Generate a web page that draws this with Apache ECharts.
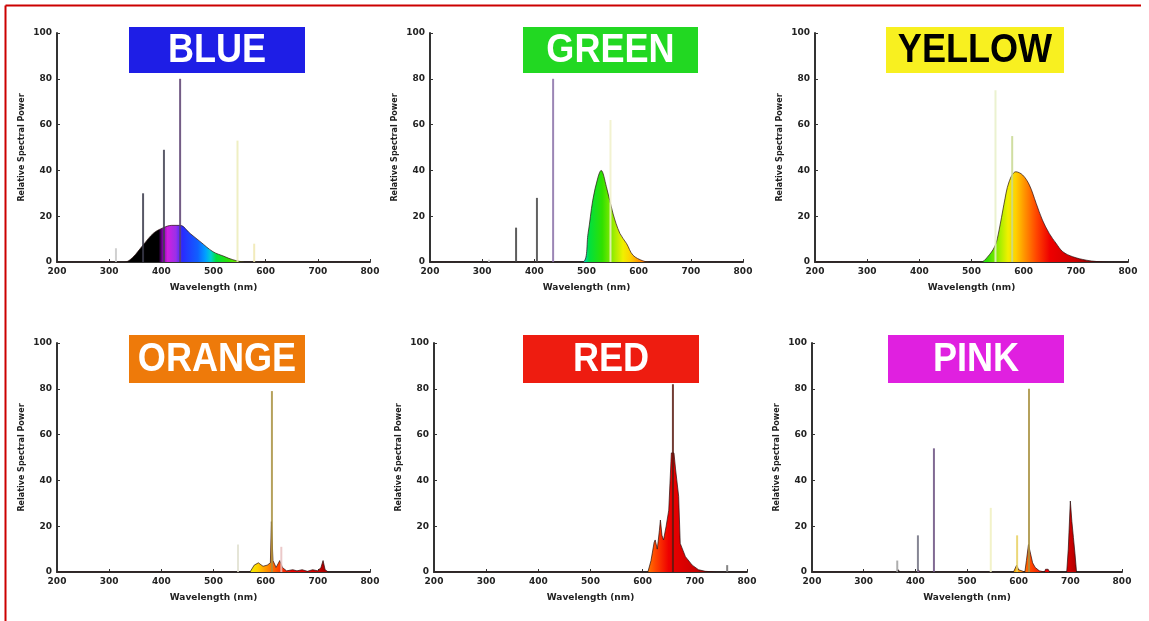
<!DOCTYPE html>
<html>
<head>
<meta charset="utf-8">
<script src="https://cdn.jsdelivr.net/npm/echarts@6/dist/echarts.min.js"></script>
<style>
  html, body { margin: 0; padding: 0; background: #fff; }
  #chart-spd { width: 1149px; height: 621px; }
</style>
</head>
<body>
<div id="chart-spd"></div>
<script>
// tick labels
var xTicks = [200, 300, 400, 500, 600, 700, 800];
var yTicks = [0, 20, 40, 60, 80, 100];

// broad phosphor curves [nm, power]
var blueCurve = [[200, 0], [330, 0], [345, 2], [365, 7.4], [385, 12.6], [404, 15], [420, 16], [436, 16], [455, 12.5], [474, 9], [499, 4.5], [520, 2.5], [537, 1], [560, 0], [800, 0]];
var greenCurve = [[200, 0], [492, 0], [503, 12.5], [512, 27], [522, 37], [528, 40], [538, 33], [551, 21], [564, 12.5], [577, 8], [589, 3], [608, 0.5], [620, 0], [800, 0]];
var yellowCurve = [[200, 0], [518, 0], [530, 2], [545, 7], [553, 14], [562, 25], [572, 35], [585, 39.4], [598, 38], [611, 33.6], [624, 25.6], [636, 18.3], [649, 12.5], [662, 8.2], [675, 4.5], [694, 2.3], [720, 0.8], [740, 0.2], [760, 0], [800, 0]];
var orangeCurve = [[200, 0], [570, 0], [578, 3], [586, 4], [595, 2.5], [603, 3], [609, 4], [611, 22], [614, 5], [620, 2], [627, 5], [632, 2], [640, 0.5], [652, 1], [660, 0.5], [670, 1], [680, 0.3], [690, 1], [700, 0.5], [706, 2], [710, 5], [714, 1], [720, 0], [800, 0]];
var redCurve = [[200, 0], [610, 0], [616, 5], [622, 13], [624, 14], [628, 10], [632, 18], [634, 22.7], [637, 16], [640, 14], [645, 20], [650, 27], [655, 52], [660, 52], [663, 45], [669, 33], [672, 12.5], [682, 6.7], [695, 3], [707, 1], [720, 0.3], [740, 0], [800, 0]];
var pinkCurve = [[200, 0], [365, 0], [367, 1], [370, 0], [404, 0], [406, 1], [409, 0], [590, 0], [596, 3], [600, 1], [612, 0], [615, 5], [619, 12], [622, 12], [627, 4], [632, 2], [640, 0.5], [650, 0], [652, 1.2], [657, 1.2], [660, 0], [693, 0], [696, 10], [700, 31], [703, 22], [706, 15], [709, 8], [712, 0], [800, 0]];

// sharp emission lines [nm, power]
var blueLines = [[313, 6], [365, 30], [405, 49], [436, 80], [546, 53], [578, 8]];
var greenLines = [[313, 1], [365, 15], [405, 28], [436, 80], [546, 62]];
var yellowLines = [[546, 75], [578, 55]];
var orangeLines = [[547, 12], [612, 79], [630, 11]];
var redLines = [[658, 82], [762, 3]];
var pinkLines = [[365, 5], [405, 16], [436, 54], [546, 28], [597, 16], [620, 80]];

var blueLineColors = ['#c8c8c8', '#3a3a4a', '#404050', '#5a4070', '#ececb8', '#f0e8b0'];
var greenLineColors = ['#cccccc', '#404040', '#454545', '#8a70a8', '#f0f0c8'];
var yellowLineColors = ['#e8f0c8', '#c8d890'];
var orangeLineColors = ['#e0e0d0', '#a89040', '#e8c0c0'];
var redLineColors = ['#5a1a10', '#707070'];
var pinkLineColors = ['#a0a0a0', '#707080', '#6a5080', '#f0f0c0', '#e8d060', '#a89040'];

// colour of light along the wavelength axis
var spectrum = [[200, '#000000'], [395, '#000000'], [402, '#7a00a0'], [412, '#d020e0'], [428, '#9a30e8'], [440, '#2a2aff'], [470, '#1060ff'], [485, '#00a0ff'], [495, '#00d0d0'], [505, '#00e040'], [530, '#30e000'], [555, '#a8ee00'], [570, '#f0f000'], [585, '#ffd000'], [600, '#ff9900'], [625, '#ff4400'], [650, '#ee0000'], [700, '#cc0000'], [730, '#800000'], [800, '#400000']];

var panels = [
  { name: 'BLUE', box: '#1e1ee6', text: '#fff', curve: blueCurve, lines: blueLines, colors: blueLineColors, smooth: true,
    grid: { left: 57, top: 33, width: 313, height: 229 }, title: [129, 27, 176, 46] },
  { name: 'GREEN', box: '#22d822', text: '#fff', curve: greenCurve, lines: greenLines, colors: greenLineColors, smooth: true,
    grid: { left: 430, top: 33, width: 313, height: 229 }, title: [523, 27, 175, 46] },
  { name: 'YELLOW', box: '#f8f020', text: '#000', curve: yellowCurve, lines: yellowLines, colors: yellowLineColors, smooth: true,
    grid: { left: 815, top: 33, width: 313, height: 229 }, title: [886, 27, 178, 46] },
  { name: 'ORANGE', box: '#ee7a0a', text: '#fff', curve: orangeCurve, lines: orangeLines, colors: orangeLineColors, smooth: false,
    grid: { left: 57, top: 343, width: 313, height: 229 }, title: [129, 335, 176, 48] },
  { name: 'RED', box: '#ee1c10', text: '#fff', curve: redCurve, lines: redLines, colors: redLineColors, smooth: false,
    grid: { left: 434, top: 343, width: 313, height: 229 }, title: [523, 335, 176, 48] },
  { name: 'PINK', box: '#e020e0', text: '#fff', curve: pinkCurve, lines: pinkLines, colors: pinkLineColors, smooth: false,
    grid: { left: 812, top: 343, width: 310, height: 229 }, title: [888, 335, 176, 48] }
];

var dom = document.getElementById('chart-spd');
var myChart = echarts.init(dom, null, { renderer: 'canvas' });

var spectrumFill = new echarts.graphic.LinearGradient(0, 0, 1, 0,
  spectrum.map(function (s) {
    return { offset: (s[0] - xTicks[0]) / (xTicks[xTicks.length - 1] - xTicks[0]), color: s[1] };
  })
);

var labelFont = { color: '#222', fontSize: 9, fontWeight: 'bold', fontFamily: 'DejaVu Sans' };
var grids = [], xAxes = [], yAxes = [], series = [];
var graphics = [
  { type: 'line', shape: { x1: 5.5, y1: 5.5, x2: 1141, y2: 5.5 }, style: { stroke: '#cc0000', lineWidth: 2 } },
  { type: 'line', shape: { x1: 5.5, y1: 5.5, x2: 5.5, y2: 621 }, style: { stroke: '#cc0000', lineWidth: 2 } }
];

panels.forEach(function (p, i) {
  grids.push(p.grid);
  xAxes.push({
    type: 'value', gridIndex: i, min: xTicks[0], max: xTicks[xTicks.length - 1], interval: 100,
    name: 'Wavelength (nm)', nameLocation: 'middle', nameGap: 21,
    nameTextStyle: labelFont,
    axisLine: { lineStyle: { color: '#333', width: 2 } },
    axisTick: { inside: true, length: 3, lineStyle: { color: '#333' } },
    axisLabel: Object.assign({ margin: 5 }, labelFont),
    splitLine: { show: false }
  });
  yAxes.push({
    type: 'value', gridIndex: i, min: yTicks[0], max: yTicks[yTicks.length - 1], interval: 20,
    name: 'Relative Spectral Power', nameLocation: 'middle', nameGap: 31,
    nameTextStyle: Object.assign({}, labelFont, { fontSize: 8 }),
    axisLine: { show: true, lineStyle: { color: '#333', width: 2 } },
    axisTick: { show: true, inside: true, length: 3, lineStyle: { color: '#333' } },
    axisLabel: Object.assign({ margin: 5 }, labelFont),
    splitLine: { show: false }
  });
  series.push({
    type: 'line', xAxisIndex: i, yAxisIndex: i, data: p.curve,
    smooth: p.smooth ? 0.35 : false, symbol: 'none',
    lineStyle: { color: '#2a1010', width: 1, opacity: 0.7 },
    areaStyle: { color: spectrumFill, opacity: 1 },
    z: 2
  });
  series.push({
    type: 'bar', xAxisIndex: i, yAxisIndex: i, barWidth: 2,
    data: p.lines.map(function (d, k) {
      return { value: d, itemStyle: { color: p.colors[k], opacity: 0.85 } };
    }),
    z: 3
  });
  graphics.push({
    type: 'group', left: p.title[0], top: p.title[1],
    children: [
      { type: 'rect', shape: { x: 0, y: 0, width: p.title[2], height: p.title[3] }, style: { fill: p.box } },
      { type: 'text', x: p.title[2] / 2, y: p.title[3] / 2 + 1, scaleX: 0.88,
        style: { text: p.name, fill: p.text, font: 'bold 41px "Liberation Sans", Arial, sans-serif',
                 align: 'center', verticalAlign: 'middle' } }
    ]
  });
});

var option = {
  backgroundColor: '#fff',
  animation: false,
  grid: grids,
  xAxis: xAxes,
  yAxis: yAxes,
  series: series,
  graphic: graphics
};

myChart.setOption(option);
window.addEventListener('resize', myChart.resize);
</script>
</body>
</html>
